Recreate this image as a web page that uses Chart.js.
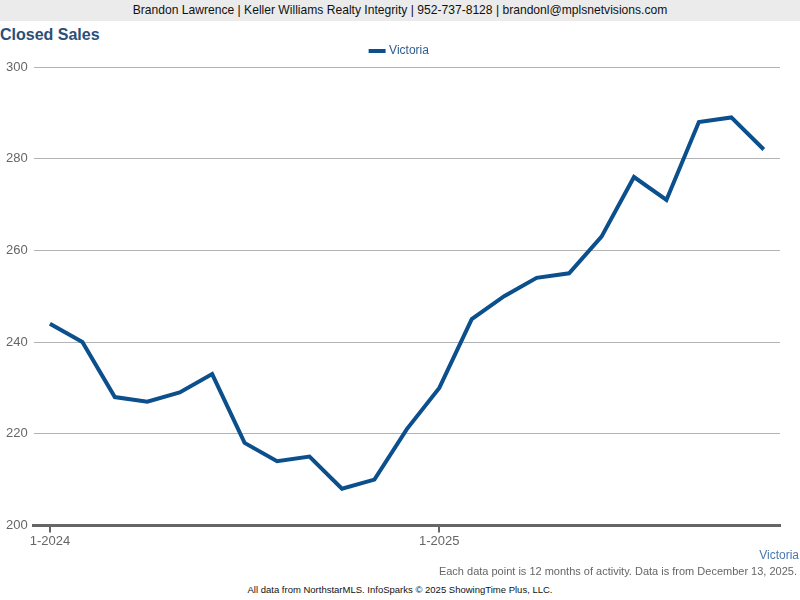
<!DOCTYPE html>
<html>
<head>
<meta charset="utf-8">
<script src="https://cdn.jsdelivr.net/npm/chart.js@4.4.1/dist/chart.umd.min.js"></script>
<style>
  body { margin: 0; width: 800px; height: 600px; position: relative; background: #fff; font-family: "Liberation Sans", Arial, sans-serif; overflow: hidden; }
  #header { position: absolute; left: 0; top: 0; width: 800px; height: 21px; background: #ebebeb; text-align: center; font-size: 12.1px; line-height: 21px; color: #111; }
  #title { position: absolute; left: 0; top: 26px; font-size: 16px; font-weight: bold; color: #2c4e77; }
  #wrap { position: absolute; left: 0; top: 42px; width: 800px; height: 508px; }
  #area-label { position: absolute; right: 1px; top: 548px; font-size: 12px; color: #4a78ad; }
  #note { position: absolute; right: 3px; top: 565px; font-size: 11px; color: #666; }
  #footer { position: absolute; left: 0; width: 800px; top: 584px; text-align: center; font-size: 9.5px; color: #111; }
</style>
</head>
<body>
<div id="header">Brandon Lawrence | Keller Williams Realty Integrity | 952-737-8128 | brandonl@mplsnetvisions.com</div>
<div id="title">Closed Sales</div>
<div id="wrap"><canvas id="chart-closed-sales"></canvas></div>
<div id="area-label">Victoria</div>
<div id="note">Each data point is 12 months of activity. Data is from December 13, 2025.</div>
<div id="footer">All data from NorthstarMLS. InfoSparks © 2025 ShowingTime Plus, LLC.</div>
<script>
const months = ["1-2024", "2-2024", "3-2024", "4-2024", "5-2024", "6-2024", "7-2024", "8-2024", "9-2024", "10-2024", "11-2024", "12-2024",
                "1-2025", "2-2025", "3-2025", "4-2025", "5-2025", "6-2025", "7-2025", "8-2025", "9-2025", "10-2025", "11-2025"];
const victoria = [244, 240, 228, 227, 229, 233, 218, 214, 215, 208, 210, 221,
                  230, 245, 250, 254, 255, 263, 276, 271, 288, 289, 282];
const shownTicks = ["1-2024", "1-2025"];

var context_chart_closed_sales = document.getElementById("chart-closed-sales");
var chart_closed_sales = new Chart(context_chart_closed_sales, {
    type: 'line',
    data: {
        labels: months,
        datasets: [{
            label: 'Victoria',
            data: victoria,
            borderColor: "#0b4f8d",
            backgroundColor: "#0b4f8d",
            borderWidth: 4,
            pointRadius: 0,
            tension: 0
        }]
    },
    options: {
        responsive: true,
        maintainAspectRatio: false,
        animation: false,
        layout: {
            padding: 0
        },
        plugins: {
            legend: {
                position: 'top',
                labels: {
                    usePointStyle: true,
                    pointStyle: 'line',
                    boxWidth: 17,
                    color: '#2e5c92',
                    font: { size: 12, family: "Liberation Sans" },
                    padding: 3
                }
            },
            tooltip: { enabled: false }
        },
        scales: {
            x: {
                offset: true,
                border: { display: true, color: '#666', width: 3 },
                grid: {
                    drawOnChartArea: false,
                    drawTicks: true,
                    tickLength: 7,
                    lineWidth: 2,
                    color: ctx => (shownTicks.includes(months[ctx.index]) ? '#666' : 'rgba(0,0,0,0)')
                },
                ticks: {
                    autoSkip: false,
                    maxRotation: 0,
                    color: '#666',
                    padding: 1,
                    font: { size: 13, family: "Liberation Sans" },
                    callback: function (value, index) {
                        return shownTicks.includes(months[index]) ? months[index] : '';
                    }
                }
            },
            y: {
                min: 200,
                max: 300,
                border: { display: false },
                grid: { color: '#b3b3b3', drawTicks: false },
                ticks: {
                    stepSize: 20,
                    color: '#666',
                    padding: 6,
                    font: { size: 13, family: "Liberation Sans" }
                }
            },
            // empty right-hand gutter so the legend stays centred on the page
            gutter: {
                position: 'right',
                display: true,
                border: { display: false },
                grid: { display: false },
                ticks: { display: false },
                afterFit: scale => { scale.width = 20; }
            }
        }
    }
});
</script>
</body>
</html>
